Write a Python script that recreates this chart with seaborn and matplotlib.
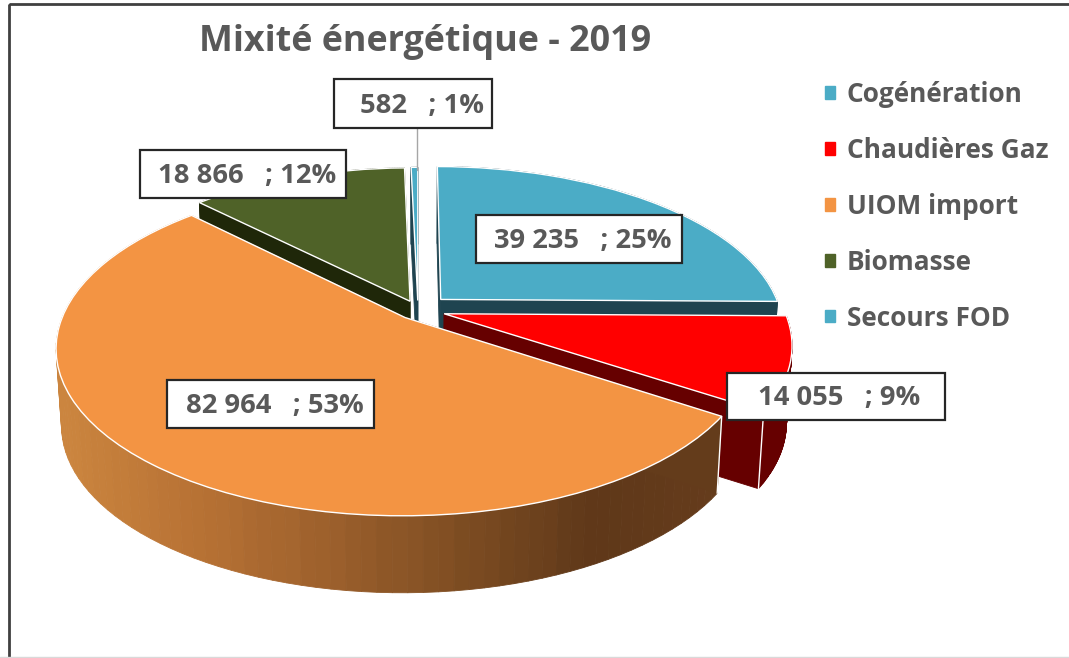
import numpy as np
import matplotlib
matplotlib.use("Agg")
import matplotlib.pyplot as plt
import matplotlib.transforms as mtransforms
from matplotlib.patches import Patch, Rectangle
import seaborn as sns

# values
categories = ["Cogénération", "Chaudières Gaz", "UIOM import", "Biomasse", "Secours FOD"]
energy = [39235, 14055, 82964, 18866, 582]
percent_labels = ["25%", "9%", "53%", "12%", "1%"]
explode = [0.095, 0.08, 0.06, 0.06, 0.06]
top_colors = ["#4BACC6", "#FF0000", "#F39443", "#4F6228", "#4BACC6"]
wall_colors = ["#1F4450", "#660000", "#663C1C", "#1F2709", "#1F4450"]
orange_wall = ["#CB853F", "#B87234", "#9C602C", "#7E4D22", "#5F3819", "#663C1C"]

# painter's order, back to front
draw_order = [3, 4, 0, 1, 2]

# label boxes (left, top, right, bottom) in image pixels, and text inset from the right
label_boxes = [(476, 215, 682, 263), (727, 373, 945, 420), (167, 380, 374, 428),
               (140, 150, 346, 198), (334, 79, 492, 128)]
label_inset = [11, 25, 10, 10, 8]

CX, CY = 418, 310
RX, RY = 340, 160
K = 0.178
DEPTH = 77
SHRINK = 0.985
TEXT = "#595959"


class Tilt(mtransforms.Transform):
    # perspective projection of the flat pie into image pixels
    input_dims = 2
    output_dims = 2

    def transform_non_affine(self, xy):
        xy = np.asarray(xy, dtype=float)
        w = 1 + K * xy[:, 1]
        return np.column_stack([CX + RX * xy[:, 0] / w, CY - RY * xy[:, 1] / w])


def lower(x):
    # the underside of the disc is slightly narrower
    return CX + (x - CX) * SHRINK


sns.set_theme(style="white")
plt.rcParams["font.family"] = ["Open Sans", "DejaVu Sans"]

fig = plt.figure(figsize=(10.69, 6.58), dpi=100)
ax = fig.add_axes([0, 0, 1, 1])

wedges, _ = ax.pie(energy, explode=explode, colors=top_colors, startangle=90,
                   counterclock=False, wedgeprops=dict(edgecolor="white", linewidth=1))
ax.set_aspect("auto")
ax.set_xlim(0, 1069)
ax.set_ylim(658, 0)

tilt = Tilt()
orange_pal = sns.blend_palette(orange_wall, 60)

for rank, i in enumerate(draw_order):
    wedge = wedges[i]
    wedge.set_transform(tilt + ax.transData)
    wedge.set_zorder(rank * 2 + 3)

    # extruded side of the slice
    angles = np.radians(np.linspace(wedge.theta1, wedge.theta2, 90))
    cx, cy = wedge.center
    rim = np.column_stack([cx + np.cos(angles), cy + np.sin(angles)])
    tip = np.array([[cx, cy]])
    outline = tilt.transform(np.vstack([tip, rim, tip]))
    for a, b in zip(outline[:-1], outline[1:]):
        if i == 2:
            mid = (a[0] + b[0]) / 2
            col = orange_pal[int(np.clip((mid - 57) / (720 - 57) * 59, 0, 59))]
        else:
            col = wall_colors[i]
        ax.fill([a[0], b[0], lower(b[0]), lower(a[0])], [a[1], b[1], b[1] + DEPTH, a[1] + DEPTH],
                color=col, lw=0.6, zorder=rank * 2 + 2)
    # pale seam where the cut face meets the rim, only the front slices show it
    if i in (1, 2):
        for p in (outline[1], outline[-2]):
            ax.plot([p[0], lower(p[0])], [p[1], p[1] + DEPTH], color="white", lw=1,
                    zorder=rank * 2 + 2)

# chart frame
ax.add_patch(Rectangle((9, 4), 1080, 700, fill=False, ec="#404040", lw=2, zorder=1))
ax.axhline(656.5, color="#D9D9D9", lw=1, zorder=1)

# leader line of the small slice
ax.plot([417, 417], [128, 170], color="#A6A6A6", lw=1, zorder=20)

for i, box in enumerate(label_boxes):
    left, top, right, bottom = box
    ax.add_patch(Rectangle((left, top), right - left, bottom - top, fc="white",
                           ec="#262626", lw=1.6, zorder=30))
    txt = f"{energy[i]:,}".replace(",", " ") + "   ; " + percent_labels[i]
    ax.text(right - label_inset[i], (top + bottom) / 2 + 2, txt, ha="right", va="center",
            fontsize=19.7, fontweight="bold", color=TEXT, zorder=31)

ax.text(425, 42, "Mixité énergétique - 2019", ha="center", va="center", fontsize=25.8,
        fontweight="bold", color=TEXT)

handles = [Patch(color=c) for c in top_colors]
ax.legend(handles, categories, loc="upper left", bbox_to_anchor=(825 / 1069, 1 - 81 / 658),
          frameon=False, handlelength=0.37, handleheight=0.37,
          handletextpad=0.45, labelspacing=1.1, borderpad=0, borderaxespad=0,
          labelcolor=TEXT, prop=dict(weight="bold", size=18.9))

fig.savefig("out.png", dpi=100)
